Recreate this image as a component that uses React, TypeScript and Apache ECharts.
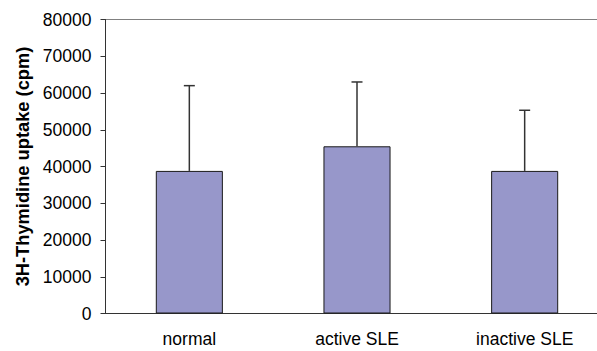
import React, { useEffect, useRef } from "react";
import * as echarts from "echarts";

const categories = ["normal", "active SLE", "inactive SLE"];
const means = [38800, 45500, 38800];
const errors = [23200, 17500, 16500];
const yTicks = [0, 10000, 20000, 30000, 40000, 50000, 60000, 70000, 80000];

export default function App() {
  const ref = useRef<HTMLDivElement>(null);
  useEffect(() => {
    if (!ref.current) return;
    const chart = echarts.init(ref.current, null, { renderer: "svg" });
    const font = "'Liberation Sans', Arial, sans-serif";
    const errData = means.map((m, i) => [i, m, m + errors[i]]);
    chart.setOption({
      animation: false,
      backgroundColor: "#ffffff",
      grid: {
        left: 105.5,
        top: 19.5,
        bottom: 37.5,
        right: -11.5,
        show: true,
        borderColor: "#808080",
        borderWidth: 1,
        backgroundColor: "transparent",
        outerBoundsMode: "none",
        containLabel: false,
      },
      xAxis: {
        type: "category",
        data: categories,
        axisLine: { show: true, lineStyle: { color: "#333", width: 1 } },
        axisTick: { show: false },
        axisLabel: { color: "#000", fontSize: 17.5, fontFamily: font, margin: 16 },
      },
      yAxis: {
        type: "value",
        min: yTicks[0],
        max: yTicks[yTicks.length - 1],
        interval: 10000,
        name: "3H-Thymidine uptake (cpm)",
        nameLocation: "middle",
        nameGap: 72,
        nameTextStyle: { color: "#000", fontSize: 18.3, fontWeight: "bold", fontFamily: font },
        axisLine: { show: true, lineStyle: { color: "#333", width: 1 } },
        axisTick: { show: true, length: 5, lineStyle: { color: "#333" } },
        axisLabel: {
          color: "#000",
          fontSize: 17.5,
          fontFamily: font,
          margin: 14,
          formatter: (v: number) => String(v),
        },
        splitLine: { show: false },
      },
      series: [
        {
          type: "bar",
          data: means,
          barWidth: "40%",
          itemStyle: { color: "#9797CA", borderColor: "#1a1a1a", borderWidth: 1 },
        },
        {
          type: "custom",
          data: errData,
          z: 5,
          renderItem: (params: any, api: any) => {
            const x = api.value(0);
            const base = api.coord([x, api.value(1)]);
            const top = api.coord([x, api.value(2)]);
            const cap = 5.5;
            const style = { stroke: "#333", lineWidth: 1.5 };
            return {
              type: "group",
              children: [
                { type: "line", shape: { x1: base[0], y1: base[1], x2: top[0], y2: top[1] }, style },
                { type: "line", shape: { x1: top[0] - cap, y1: top[1], x2: top[0] + cap, y2: top[1] }, style },
              ],
            };
          },
        },
      ],
    });
    return () => chart.dispose();
  }, []);
  return (
    <div
      ref={ref}
      style={{ position: "absolute", left: 0, top: 0, width: 597, height: 351, background: "#fff" }}
    />
  );
}
